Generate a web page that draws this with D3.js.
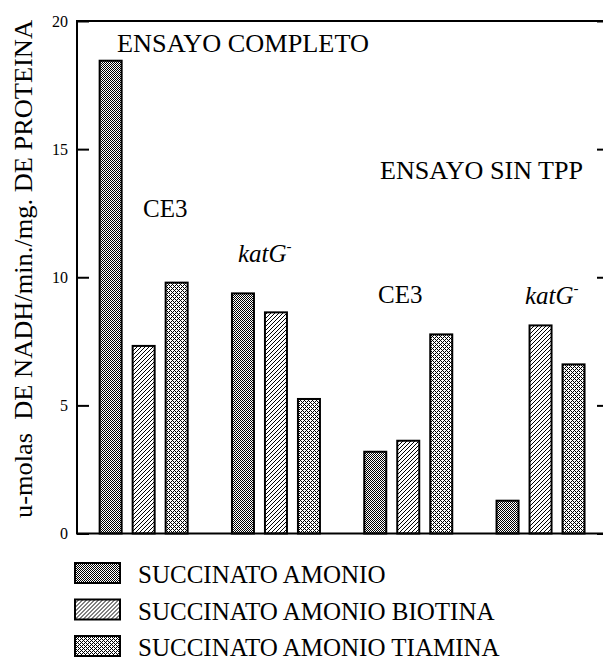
<!DOCTYPE html>
<html>
<head>
<meta charset="utf-8">
<script src="https://cdn.jsdelivr.net/npm/d3@7"></script>
</head>
<body style="margin:0;background:#fff">
<svg id="chart" width="603" height="666" style="display:block"></svg>
<script>
// Strain / assay groups along the x axis
const groups = ["CE3 completo", "katG completo", "CE3 sin TPP", "katG sin TPP"];
// Culture media (one bar per medium in each group)
const series = ["SUCCINATO AMONIO", "SUCCINATO AMONIO BIOTINA", "SUCCINATO AMONIO TIAMINA"];
// Specific activity, u-molas NADH/min./mg proteina
const succinatoAmonio        = [18.45, 9.37, 3.19, 1.28];
const succinatoAmonioBiotina = [7.32, 8.63, 3.62, 8.12];
const succinatoAmonioTiamina = [9.79, 5.25, 7.77, 6.60];
const yTicks = [0, 5, 10, 15, 20];

const values = [succinatoAmonio, succinatoAmonioBiotina, succinatoAmonioTiamina];
const rows = [];
groups.forEach((g, gi) => series.forEach((s, si) => rows.push({ group: g, series: s, value: values[si][gi] })));

const FONT = "'Liberation Serif'";
const svg = d3.select("#chart").attr("font-family", FONT);
const plotLeft = 77, plotRight = 609, plotTop = 21, plotBottom = 533.5;

const y = d3.scaleLinear().domain([0, 20]).range([plotBottom, plotTop]);
const x0 = d3.scaleBand().domain(groups).range([plotLeft + 0.5, 606.7]).padding(0);
const x1 = d3.scaleBand().domain(series).range([16.65, 115.65]).paddingInner(1 / 3).paddingOuter(1 / 6);

// Bitmap fill patterns for the three media
const defs = svg.append("defs");
function bitmap(id, size, cells) {
  const p = defs.append("pattern").attr("id", id).attr("patternUnits", "userSpaceOnUse")
    .attr("width", size).attr("height", size);
  p.append("rect").attr("width", size).attr("height", size).attr("fill", "#fff");
  cells.forEach(([cx, cy]) => p.append("rect").attr("x", cx).attr("y", cy).attr("width", 1).attr("height", 1).attr("fill", "#000"));
}
// fine checkerboard
bitmap("pat0", 2, [[0, 0], [1, 1]]);
// sparse diagonal hatching
bitmap("pat1", 4, [[3, 0], [2, 1], [1, 2], [0, 3]]);
// coarse cross-hatch
bitmap("pat2", 4, [[0, 0], [1, 1], [2, 2], [3, 3], [1, 3], [3, 1]]);
const fillFor = d3.scaleOrdinal().domain(series).range(["url(#pat0)", "url(#pat1)", "url(#pat2)"]);

// Bars
svg.append("g").selectAll("rect").data(rows).join("rect")
  .attr("x", d => x0(d.group) + x1(d.series))
  .attr("width", x1.bandwidth())
  .attr("y", d => y(d.value))
  .attr("height", d => y(0) - y(d.value))
  .attr("fill", d => fillFor(d.series))
  .attr("stroke", "#000")
  .attr("stroke-width", 2);

// Frame
svg.append("path")
  .attr("d", `M${plotLeft},${plotBottom}V${plotTop}H${plotRight}V${plotBottom}H${plotLeft}Z`)
  .attr("fill", "none").attr("stroke", "#000").attr("stroke-width", 2);

// Left axis with inward ticks
const yAxis = d3.axisLeft(y).tickValues(yTicks).tickSize(-12).tickPadding(9).tickFormat(d3.format("d"));
const gy = svg.append("g").attr("transform", `translate(${plotLeft},0)`).call(yAxis);
gy.attr("font-family", FONT).attr("font-size", 16);
gy.select(".domain").remove();
gy.selectAll(".tick line").attr("stroke-width", 2).attr("stroke", "#000");
gy.selectAll(".tick text").attr("fill", "#000").attr("font-family", FONT).attr("font-size", 16);

// Right axis ticks (inward)
const gr = svg.append("g").attr("transform", `translate(${plotRight},0)`)
  .call(d3.axisRight(y).tickValues(yTicks).tickSize(-12).tickFormat(""));
gr.select(".domain").remove();
gr.selectAll(".tick line").attr("stroke-width", 2).attr("stroke", "#000");

// Y axis title
svg.append("text")
  .attr("transform", `translate(32,${(20 + 518) / 2}) rotate(-90)`)
  .attr("text-anchor", "middle")
  .attr("font-family", FONT)
  .attr("font-size", 26)
  .attr("textLength", 498)
  .attr("lengthAdjust", "spacingAndGlyphs")
  .style("white-space", "pre")
  .text("u-molas  DE NADH/min./mg. DE PROTEINA");

// Annotations
function label(txt, xPos, yPos, size, italicSup) {
  const t = svg.append("text").attr("x", xPos).attr("y", yPos)
    .attr("font-family", FONT).attr("font-size", size);
  if (italicSup) {
    t.append("tspan").attr("font-style", "italic").text(txt);
    t.append("tspan").attr("font-size", size * 0.6).attr("dy", -11).text("-");
  } else {
    t.text(txt);
  }
  return t;
}
label("ENSAYO COMPLETO", 117, 52, 26).attr("textLength", 252).attr("lengthAdjust", "spacingAndGlyphs");
label("ENSAYO SIN TPP", 380, 179, 25).attr("textLength", 203).attr("lengthAdjust", "spacingAndGlyphs");
label("CE3", 143, 217, 25);
label("katG", 238, 262, 25, true);
label("CE3", 378, 303, 25);
label("katG", 525, 304, 25, true);

// Legend
const legend = svg.append("g").selectAll("g").data(series).join("g")
  .attr("transform", (d, i) => `translate(75,${563 + i * 36.5})`);
legend.append("rect").attr("width", 45).attr("height", 20)
  .attr("fill", d => fillFor(d)).attr("stroke", "#000").attr("stroke-width", 2);
legend.append("text").attr("x", 63).attr("y", 20)
  .attr("font-family", FONT).attr("font-size", 25).text(d => d);
</script>
</body>
</html>
